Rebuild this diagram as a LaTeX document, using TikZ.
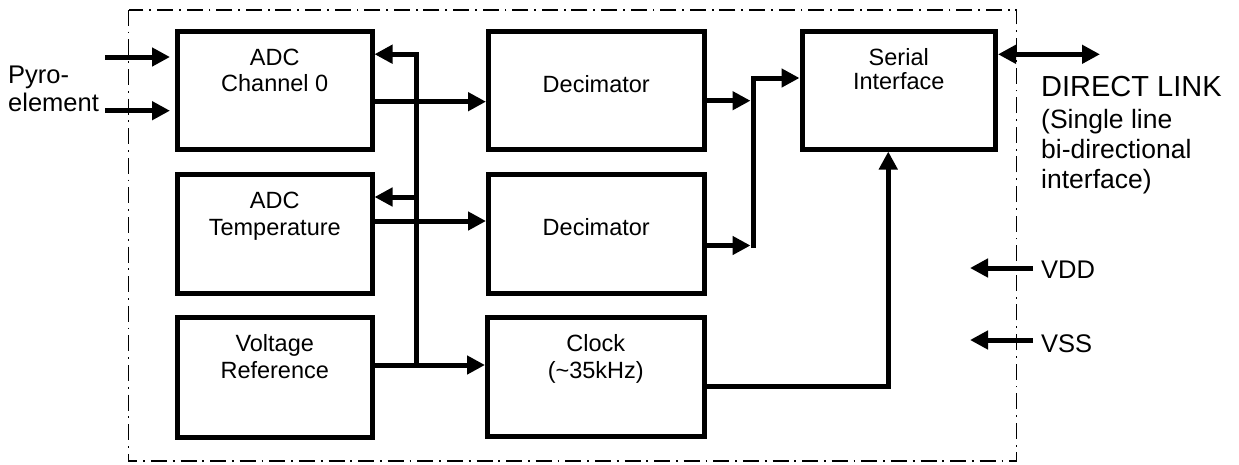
\documentclass[tikz,border=0pt]{standalone}
\usepackage{fontspec}
\setmainfont{Liberation Sans}
\usetikzlibrary{arrows.meta,calc}
\begin{document}
\begin{tikzpicture}[x=1pt,y=-1pt,
  blk/.style={draw, line width=5pt, minimum width=194.5pt, minimum height=118pt, inner sep=0pt},
  lbl/.style={anchor=base, align=center, inner sep=0pt, font=\fontsize{23.5}{26.5}\selectfont},
  conn/.style={line width=5pt},
  arr/.style={conn, -{Triangle[length=18pt,width=18pt]}},
  arrs/.style={conn, {Triangle[length=18pt,width=18pt]}-{Triangle[length=18pt,width=18pt]}},
  frame/.style={line width=1.5pt, dash pattern=on 16pt off 5.8pt on 1.8pt off 6pt},
  side/.style={anchor=base west, inner sep=0pt, align=left}
]
\useasboundingbox (0,0) rectangle (1239,464);
% frame
\draw[frame] (128.5,9.8) rectangle (1016.7,461);
% blocks
\node[blk] (adc0) at (274.75,90) {};
\node[blk, minimum height=119pt] (adct) at (274.75,233.5) {};
\node[blk, minimum height=119.5pt] (vref) at (274.75,377.25) {};
\node[blk, minimum width=215.5pt] (dec1) at (596.25,90) {};
\node[blk, minimum width=215.5pt, minimum height=119pt] (dec2) at (596.25,233.5) {};
\node[blk, minimum width=216.5pt, minimum height=118.5pt] (clock) at (595.75,376.75) {};
\node[blk, minimum width=193.5pt] (si) at (898.75,90) {};
% labels (anchor = baseline of last line)
\node[lbl] (adc0l) at (274.75,91.7) {ADC\\Channel 0};
\node[lbl] (adctl) at (274.75,235) {ADC\\Temperature};
\node[lbl] (vrefl) at (274.75,378.3) {Voltage\\Reference};
\node[lbl] (dec1l) at (596.25,92) {Decimator};
\node[lbl] (dec2l) at (596.25,235) {Decimator};
\node[lbl] (clockl) at (595.75,378.3) {Clock\\(\textasciitilde 35kHz)};
\node[lbl, font=\fontsize{23.5}{24.5}\selectfont] (sil) at (898.75,89.5) {Serial\\Interface};
% side texts
\node[side, font=\fontsize{25.5}{28.5}\selectfont] (pyro) at (8,111.7) {Pyro-\\element};
\node[side, font=\fontsize{29}{32}\selectfont] (dl) at (1041,96.7) {DIRECT LINK};
\node[side, font=\fontsize{26.5}{30}\selectfont] (dlsub) at (1041,188.3) {(Single line\\bi-directional\\interface)};
\node[side, font=\fontsize{25.5}{30}\selectfont] (vdd) at (1041,278.3) {VDD};
\node[side, font=\fontsize{25.5}{30}\selectfont] (vss) at (1041,352.3) {VSS};
% inputs
\coordinate (p1) at (105,57);
\coordinate (p2) at (105,110.7);
\draw[arr, shorten >=5pt] (p1) -- (p1 -| adc0.west);
\draw[arr, shorten >=5pt] (p2) -- (p2 -| adc0.west);
% bus
\coordinate (jb) at (416.7,365);
\coordinate (jt) at (416.7,54.2);
\coordinate (jm) at (416.7,197);
\draw[arr, line cap=rect] (jb) -- (jt) -- (jt -| adc0.east);
\draw[arr] (jm) -- (jm -| adct.east);
\draw[arr] ([yshift=12.25pt]vref.east) coordinate (v1) -- (v1 -| clock.west);
\draw[arr] ([yshift=-11.7pt]adc0.east) coordinate (a1) -- (a1 -| dec1.west);
\draw[arr] ([yshift=12.5pt]adct.east) coordinate (a2) -- (a2 -| dec2.west);
% decimators to serial interface
\coordinate (k1) at (753,78);
\coordinate (k2) at (753,245.5);
\draw[arr, shorten >=2.5pt] ([yshift=-10.7pt]dec1.east) coordinate (d1) -- (d1 -| k1);
\draw[arr, shorten >=2.5pt] ([yshift=-12pt]dec2.east) coordinate (d2) -- (d2 -| k1);
\draw[arr, line cap=rect] (k2) -- (k1) -- (k1 -| si.west);
% clock to serial interface
\draw[arr] ([yshift=-10pt]clock.east) -| ([xshift=-10.5pt]si.south);
% direct link
\coordinate (dlend) at (1100,54.3);
\draw[arrs] (dlend -| si.east) -- (dlend);
% supplies
\coordinate (vd) at (1033,268);
\coordinate (vdt) at (970,268);
\coordinate (vs) at (1033,340);
\coordinate (vst) at (970,340);
\draw[arr] (vd) -- (vdt);
\draw[arr] (vs) -- (vst);
\end{tikzpicture}
\end{document}
